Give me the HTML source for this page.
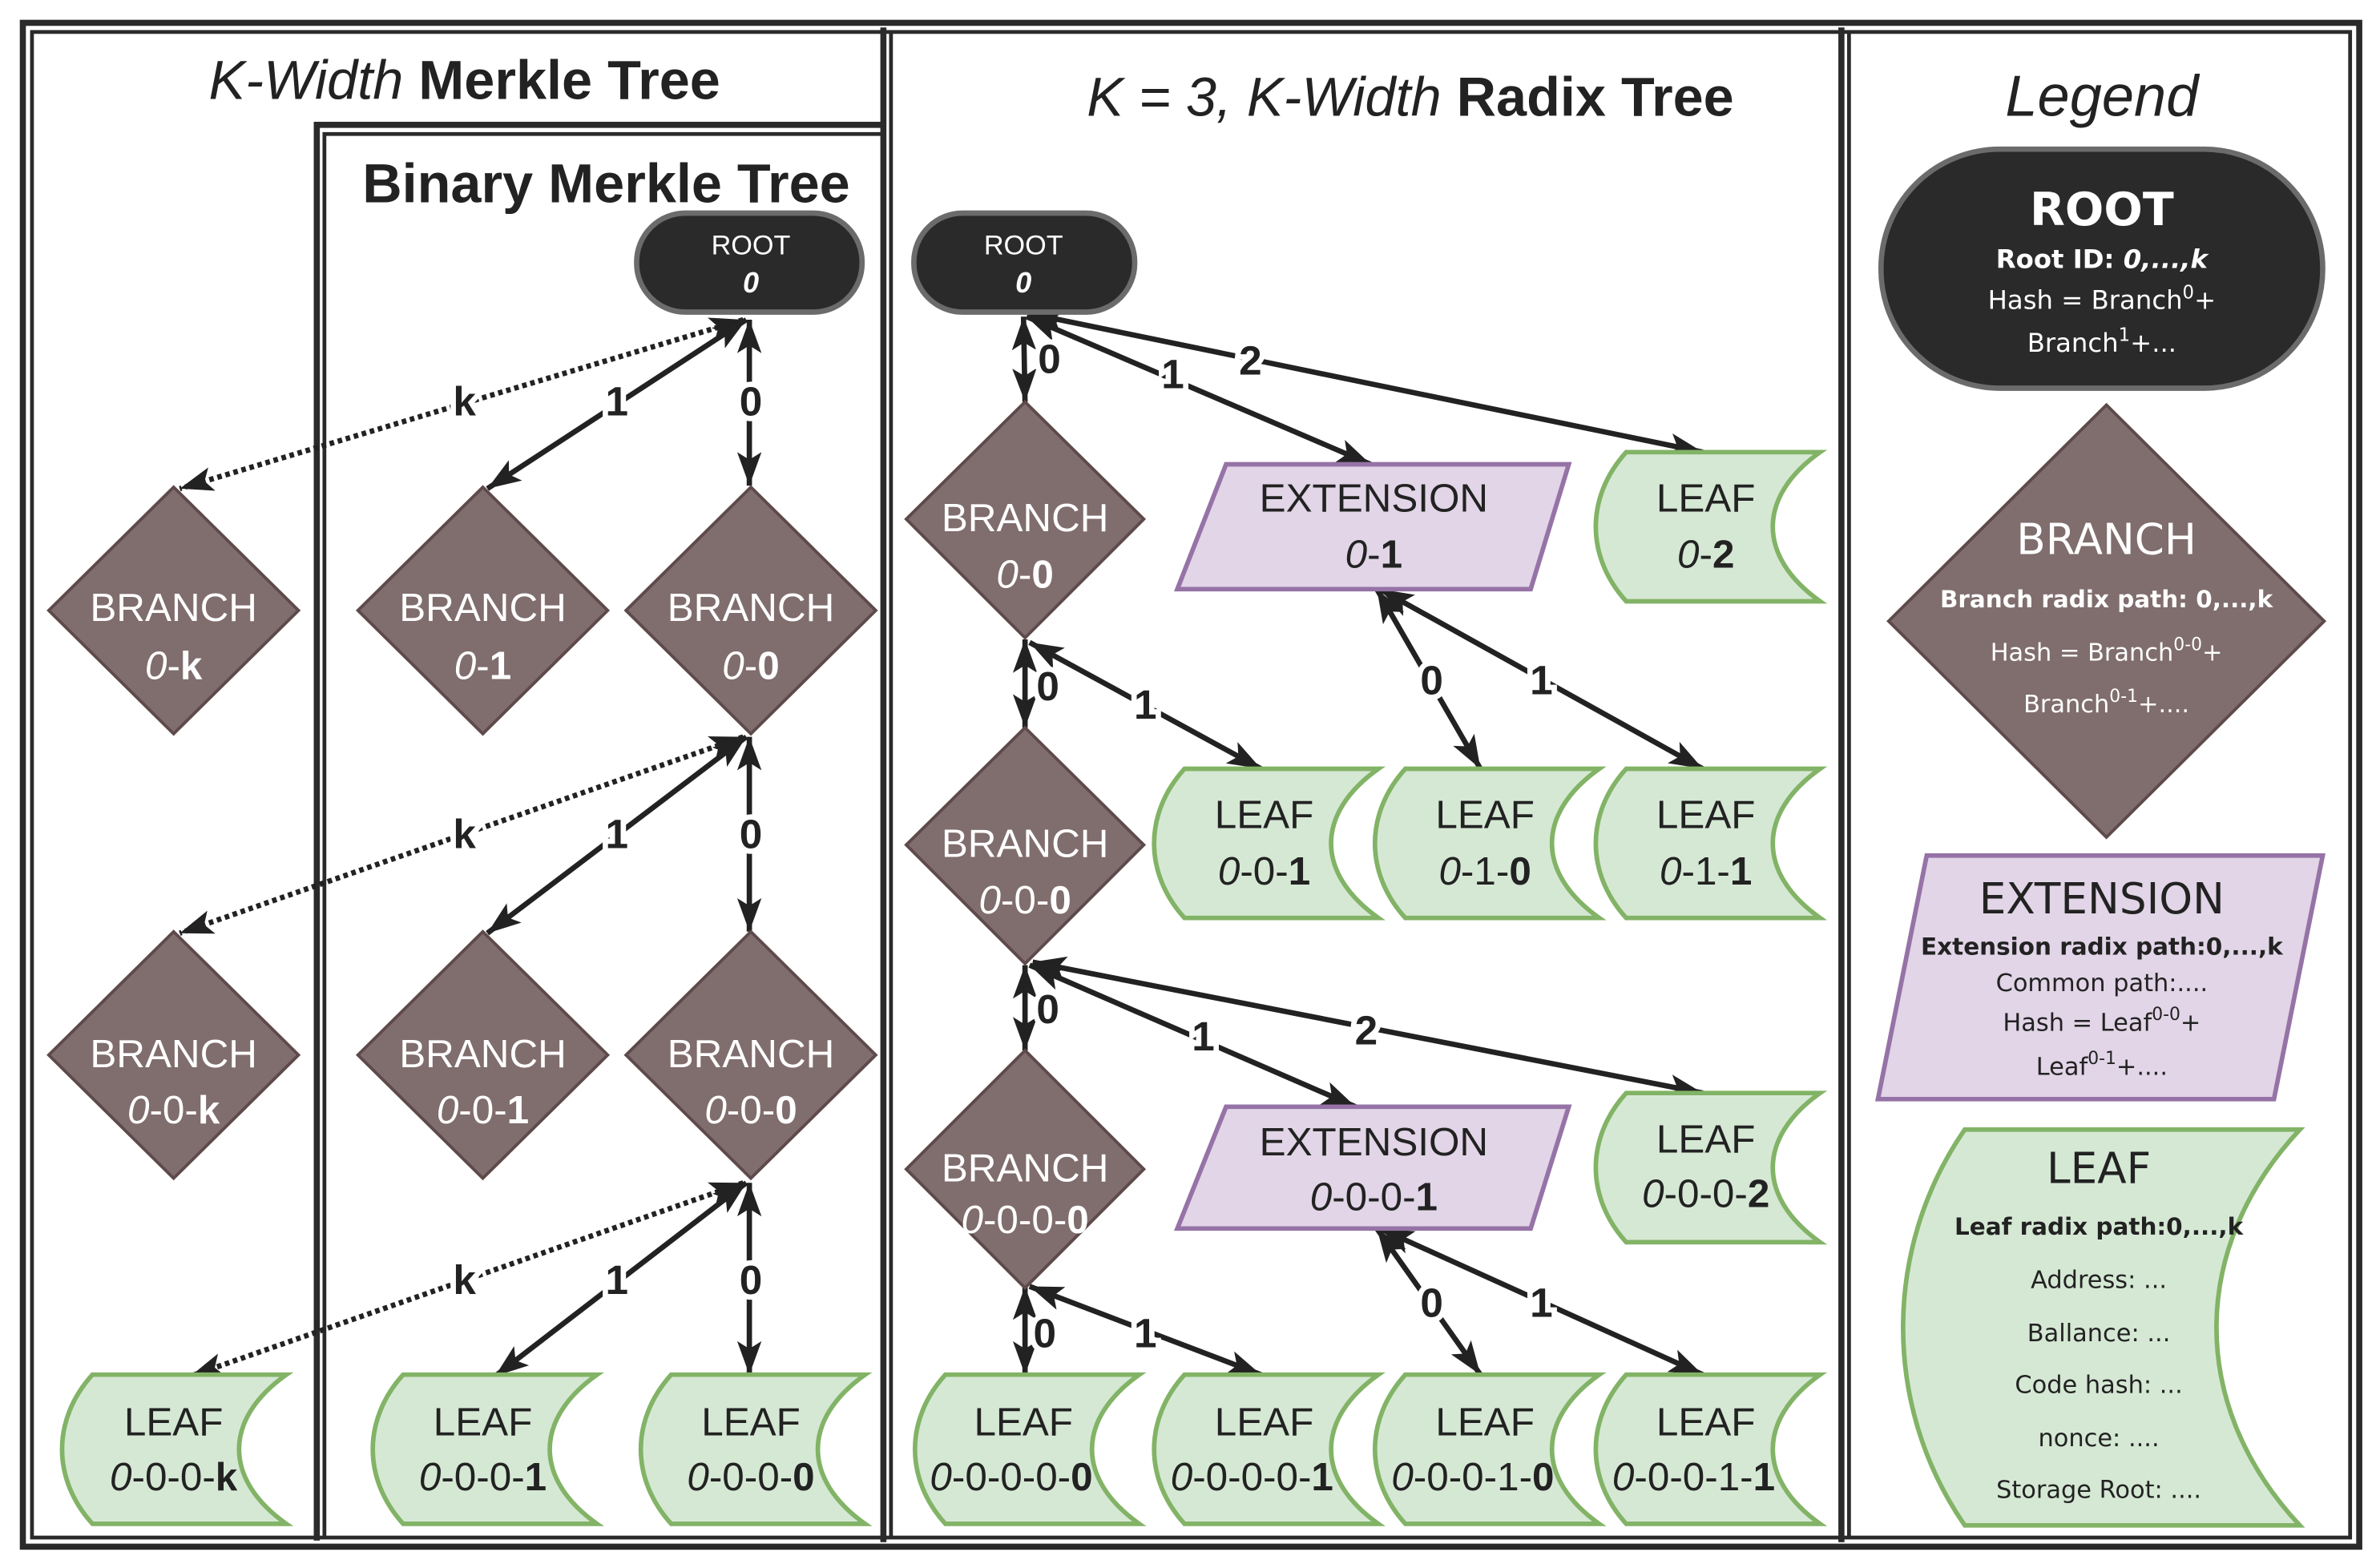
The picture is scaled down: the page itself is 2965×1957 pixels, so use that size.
<!DOCTYPE html>
<html><head><meta charset="utf-8"><style>
html,body{margin:0;padding:0;background:#fff;}
svg{display:block;}
.t{font-family:"Liberation Sans",sans-serif;}
.n{font-family:"Liberation Sans",sans-serif;font-size:26px;text-anchor:middle;}
.lbl{font-family:"Liberation Sans",sans-serif;font-weight:bold;font-size:27px;text-anchor:middle;fill:#222;stroke:#fff;stroke-width:7px;paint-order:stroke;}
.lg{font-family:"DejaVu Sans",sans-serif;text-anchor:middle;fill:#222;}
.e{stroke:#222;stroke-width:3.5;fill:none;marker-start:url(#a);marker-end:url(#a);}
.d{stroke-dasharray:3 2.5;}
.leaf{fill:#d5e8d4;stroke:#82b366;stroke-width:3;}
.ext{fill:#e1d5e7;stroke:#9673a6;stroke-width:3;}
.br{fill:#806d6d;stroke:#5e4a4a;stroke-width:2;}
.rt{fill:#2a2a2a;stroke:#6b6b6b;stroke-width:3.5;}
</style></head><body>
<svg width="2965" height="1957" viewBox="0 0 1560 1030" preserveAspectRatio="none" xmlns="http://www.w3.org/2000/svg">
<defs>
<marker id="a" markerUnits="userSpaceOnUse" markerWidth="24" markerHeight="24" viewBox="0 0 24 24" refX="22" refY="12" orient="auto-start-reverse">
<path d="M0,4 L22,12 L0,20 L5,12 Z" fill="#222"/>
</marker>
</defs>
<g fill="none" stroke="#2a2a2a">
<rect x="15" y="15" width="1534" height="1001" stroke-width="4"/>
<rect x="21" y="21" width="1522" height="989" stroke-width="2.5"/>
<line x1="580" y1="18" x2="580" y2="1013" stroke-width="4"/>
<line x1="585" y1="21" x2="585" y2="1010" stroke-width="2.5"/>
<line x1="1209" y1="18" x2="1209" y2="1013" stroke-width="4"/>
<line x1="1214" y1="21" x2="1214" y2="1010" stroke-width="2.5"/>
<path d="M208,1012 V82 H580" stroke-width="4"/>
<path d="M213,1010 V88 H580" stroke-width="2.5"/>
</g>
<text x="305" y="65" class="t" font-size="36" text-anchor="middle" fill="#222"><tspan font-style="italic">K-Width</tspan> <tspan font-weight="bold">Merkle Tree</tspan></text>
<text x="398" y="133" class="t" font-size="36" font-weight="bold" text-anchor="middle" fill="#222">Binary Merkle Tree</text>
<text x="926" y="76" class="t" font-size="36" text-anchor="middle" fill="#222"><tspan font-style="italic">K = 3,  K-Width</tspan> <tspan font-weight="bold">Radix Tree</tspan></text>
<text x="1380" y="76" class="t" font-size="38" font-style="italic" text-anchor="middle" fill="#222">Legend</text>

<line class="e d" x1="488" y1="210" x2="118" y2="321"/>
<line class="e" x1="490" y1="210" x2="320" y2="321"/>
<line class="e" x1="492" y1="210" x2="492" y2="319"/>
<line class="e d" x1="488" y1="484" x2="118" y2="613"/>
<line class="e" x1="490" y1="484" x2="320" y2="613"/>
<line class="e" x1="492" y1="484" x2="492" y2="612"/>
<line class="e d" x1="488" y1="777" x2="125" y2="904"/>
<line class="e" x1="490" y1="777" x2="325" y2="904"/>
<line class="e" x1="492" y1="777" x2="492" y2="903"/>
<text class="lbl" x="305" y="273">k</text><text class="lbl" x="405" y="273">1</text><text class="lbl" x="493" y="273">0</text>
<text class="lbl" x="305" y="557">k</text><text class="lbl" x="405" y="557">1</text><text class="lbl" x="493" y="557">0</text>
<text class="lbl" x="305" y="850">k</text><text class="lbl" x="405" y="850">1</text><text class="lbl" x="493" y="850">0</text>

<line class="e" x1="672" y1="208" x2="673" y2="264"/>
<line class="e" x1="674" y1="208" x2="900" y2="305"/>
<line class="e" x1="676" y1="206" x2="1118" y2="297"/>
<line class="e" x1="673" y1="420" x2="673" y2="478"/>
<line class="e" x1="676" y1="422" x2="828" y2="505"/>
<line class="e" x1="904" y1="387" x2="972" y2="505"/>
<line class="e" x1="906" y1="387" x2="1118" y2="505"/>
<line class="e" x1="673" y1="634" x2="673" y2="690"/>
<line class="e" x1="676" y1="634" x2="890" y2="727"/>
<line class="e" x1="678" y1="632" x2="1118" y2="718"/>
<line class="e" x1="673" y1="845" x2="673" y2="903"/>
<line class="e" x1="676" y1="845" x2="828" y2="903"/>
<line class="e" x1="904" y1="807" x2="972" y2="903"/>
<line class="e" x1="906" y1="807" x2="1118" y2="903"/>
<text class="lbl" x="689" y="245">0</text><text class="lbl" x="770" y="255">1</text><text class="lbl" x="821" y="246">2</text>
<text class="lbl" x="688" y="460">0</text><text class="lbl" x="752" y="472">1</text>
<text class="lbl" x="940" y="456">0</text><text class="lbl" x="1012" y="456">1</text>
<text class="lbl" x="688" y="672">0</text><text class="lbl" x="790" y="690">1</text><text class="lbl" x="897" y="686">2</text>
<text class="lbl" x="686" y="885">0</text><text class="lbl" x="752" y="885">1</text>
<text class="lbl" x="940" y="865">0</text><text class="lbl" x="1012" y="865">1</text>

<rect class="rt" x="418" y="140" width="148" height="65" rx="32"/>
<text x="493" y="167" font-family="Liberation Sans,sans-serif" font-size="18" fill="#fff" text-anchor="middle">ROOT</text>
<text x="493" y="192" font-family="Liberation Sans,sans-serif" font-size="19" font-weight="bold" font-style="italic" fill="#fff" text-anchor="middle">0</text>
<rect class="rt" x="600" y="140" width="145" height="65" rx="32"/>
<text x="672" y="167" font-family="Liberation Sans,sans-serif" font-size="18" fill="#fff" text-anchor="middle">ROOT</text>
<text x="672" y="192" font-family="Liberation Sans,sans-serif" font-size="19" font-weight="bold" font-style="italic" fill="#fff" text-anchor="middle">0</text>

<g fill="#fff">
<path class="br" d="M114,320 L196,401 L114,482 L32,401Z"/>
<text class="n" x="114" y="408">BRANCH</text><text class="n" x="114" y="446"><tspan font-style="italic">0</tspan>-<tspan font-weight="bold">k</tspan></text>
<path class="br" d="M317,320 L399,401 L317,482 L235,401Z"/>
<text class="n" x="317" y="408">BRANCH</text><text class="n" x="317" y="446"><tspan font-style="italic">0</tspan>-<tspan font-weight="bold">1</tspan></text>
<path class="br" d="M493,320 L575,401 L493,482 L411,401Z"/>
<text class="n" x="493" y="408">BRANCH</text><text class="n" x="493" y="446"><tspan font-style="italic">0</tspan>-<tspan font-weight="bold">0</tspan></text>
<path class="br" d="M114,612 L196,693 L114,774 L32,693Z"/>
<text class="n" x="114" y="701">BRANCH</text><text class="n" x="114" y="738"><tspan font-style="italic">0</tspan>-0-<tspan font-weight="bold">k</tspan></text>
<path class="br" d="M317,612 L399,693 L317,774 L235,693Z"/>
<text class="n" x="317" y="701">BRANCH</text><text class="n" x="317" y="738"><tspan font-style="italic">0</tspan>-0-<tspan font-weight="bold">1</tspan></text>
<path class="br" d="M493,612 L575,693 L493,774 L411,693Z"/>
<text class="n" x="493" y="701">BRANCH</text><text class="n" x="493" y="738"><tspan font-style="italic">0</tspan>-0-<tspan font-weight="bold">0</tspan></text>
<path class="br" d="M673,264 L751,341 L673,419 L595,341Z"/>
<text class="n" x="673" y="349">BRANCH</text><text class="n" x="673" y="386"><tspan font-style="italic">0</tspan>-<tspan font-weight="bold">0</tspan></text>
<path class="br" d="M673,478 L751,555 L673,633 L595,555Z"/>
<text class="n" x="673" y="563">BRANCH</text><text class="n" x="673" y="600"><tspan font-style="italic">0</tspan>-0-<tspan font-weight="bold">0</tspan></text>
<path class="br" d="M673,690 L751,768 L673,846 L595,768Z"/>
<text class="n" x="673" y="776">BRANCH</text><text class="n" x="673" y="810" font-size="23"><tspan font-style="italic">0</tspan>-0-0-<tspan font-weight="bold">0</tspan></text>
</g>

<path class="ext" d="M805,305 H1030 L1005,387 H773Z"/>
<text class="n" x="902" y="336" fill="#222">EXTENSION</text><text class="n" x="902" y="373" fill="#222"><tspan font-style="italic">0</tspan>-<tspan font-weight="bold">1</tspan></text>
<path class="ext" d="M805,727 H1030 L1005,807 H773Z"/>
<text class="n" x="902" y="759" fill="#222">EXTENSION</text><text class="n" x="902" y="795" fill="#222" font-size="23"><tspan font-style="italic">0</tspan>-0-0-<tspan font-weight="bold">1</tspan></text>

<g fill="#222">
<path class="leaf" d="M60.7,903 H188 C146.6,932.4 146.6,971.6 188,1001 H60.7 C34.1,971.6 34.1,932.4 60.7,903Z"/>
<text class="n" x="114" y="943">LEAF</text><text class="n" x="114" y="979" font-size="23"><tspan font-style="italic">0</tspan>-0-0-<tspan font-weight="bold">k</tspan></text>
<path class="leaf" d="M264.7,903 H392 C350.6,932.4 350.6,971.6 392,1001 H264.7 C238.1,971.6 238.1,932.4 264.7,903Z"/>
<text class="n" x="317" y="943">LEAF</text><text class="n" x="317" y="979" font-size="23"><tspan font-style="italic">0</tspan>-0-0-<tspan font-weight="bold">1</tspan></text>
<path class="leaf" d="M440.7,903 H568 C526.6,932.4 526.6,971.6 568,1001 H440.7 C414.1,971.6 414.1,932.4 440.7,903Z"/>
<text class="n" x="493" y="943">LEAF</text><text class="n" x="493" y="979" font-size="23"><tspan font-style="italic">0</tspan>-0-0-<tspan font-weight="bold">0</tspan></text>

<path class="leaf" d="M1067.7,297 H1195 C1153.6,326.4 1153.6,365.6 1195,395 H1067.7 C1041.1,365.6 1041.1,326.4 1067.7,297Z"/>
<text class="n" x="1120" y="336">LEAF</text><text class="n" x="1120" y="373"><tspan font-style="italic">0</tspan>-<tspan font-weight="bold">2</tspan></text>

<path class="leaf" d="M777.7,505 H905 C863.6,534.4 863.6,573.6 905,603 H777.7 C751.1,573.6 751.1,534.4 777.7,505Z"/>
<text class="n" x="830" y="544">LEAF</text><text class="n" x="830" y="581"><tspan font-style="italic">0</tspan>-0-<tspan font-weight="bold">1</tspan></text>
<path class="leaf" d="M922.7,505 H1050 C1008.6,534.4 1008.6,573.6 1050,603 H922.7 C896.1,573.6 896.1,534.4 922.7,505Z"/>
<text class="n" x="975" y="544">LEAF</text><text class="n" x="975" y="581"><tspan font-style="italic">0</tspan>-1-<tspan font-weight="bold">0</tspan></text>
<path class="leaf" d="M1067.7,505 H1195 C1153.6,534.4 1153.6,573.6 1195,603 H1067.7 C1041.1,573.6 1041.1,534.4 1067.7,505Z"/>
<text class="n" x="1120" y="544">LEAF</text><text class="n" x="1120" y="581"><tspan font-style="italic">0</tspan>-1-<tspan font-weight="bold">1</tspan></text>

<path class="leaf" d="M1067.7,718 H1195 C1153.6,747.4 1153.6,786.6 1195,816 H1067.7 C1041.1,786.6 1041.1,747.4 1067.7,718Z"/>
<text class="n" x="1120" y="757">LEAF</text><text class="n" x="1120" y="793" font-size="23"><tspan font-style="italic">0</tspan>-0-0-<tspan font-weight="bold">2</tspan></text>

<path class="leaf" d="M620.7,903 H748 C706.6,932.4 706.6,971.6 748,1001 H620.7 C594.1,971.6 594.1,932.4 620.7,903Z"/>
<text class="n" x="672" y="943">LEAF</text><text class="n" x="664" y="979" font-size="23"><tspan font-style="italic">0</tspan>-0-0-0-<tspan font-weight="bold">0</tspan></text>
<path class="leaf" d="M777.7,903 H905 C863.6,932.4 863.6,971.6 905,1001 H777.7 C751.1,971.6 751.1,932.4 777.7,903Z"/>
<text class="n" x="830" y="943">LEAF</text><text class="n" x="822" y="979" font-size="23"><tspan font-style="italic">0</tspan>-0-0-0-<tspan font-weight="bold">1</tspan></text>
<path class="leaf" d="M922.7,903 H1050 C1008.6,932.4 1008.6,971.6 1050,1001 H922.7 C896.1,971.6 896.1,932.4 922.7,903Z"/>
<text class="n" x="975" y="943">LEAF</text><text class="n" x="967" y="979" font-size="23"><tspan font-style="italic">0</tspan>-0-0-1-<tspan font-weight="bold">0</tspan></text>
<path class="leaf" d="M1067.7,903 H1195 C1153.6,932.4 1153.6,971.6 1195,1001 H1067.7 C1041.1,971.6 1041.1,932.4 1067.7,903Z"/>
<text class="n" x="1120" y="943">LEAF</text><text class="n" x="1112" y="979" font-size="23"><tspan font-style="italic">0</tspan>-0-0-1-<tspan font-weight="bold">1</tspan></text>
</g>

<rect class="rt" x="1235" y="98" width="290" height="157" rx="78" stroke-width="4"/>
<text class="lg" x="1380" y="148" font-size="30" font-weight="bold" style="fill:#fff">ROOT</text>
<text class="lg" x="1380" y="176" font-size="17" font-weight="bold" style="fill:#fff">Root ID: <tspan font-style="italic">0,...,k</tspan></text>
<text class="lg" x="1380" y="203" font-size="17" style="fill:#fff">Hash = Branch<tspan font-size="12" dy="-7">0</tspan><tspan dy="7">+</tspan></text>
<text class="lg" x="1380" y="231" font-size="17" style="fill:#fff">Branch<tspan font-size="12" dy="-7">1</tspan><tspan dy="7">+...</tspan></text>

<path class="br" d="M1383,266 L1526,408 L1383,550 L1240,408Z" stroke-width="2.5"/>
<text class="lg" x="1383" y="364" font-size="28" style="fill:#fff">BRANCH</text>
<text class="lg" x="1383" y="399" font-size="15.5" font-weight="bold" style="fill:#fff">Branch radix path: 0,...,k</text>
<text class="lg" x="1383" y="434" font-size="16" style="fill:#fff">Hash = Branch<tspan font-size="11.5" dy="-7">0-0</tspan><tspan dy="7">+</tspan></text>
<text class="lg" x="1383" y="468" font-size="16" style="fill:#fff">Branch<tspan font-size="11.5" dy="-7">0-1</tspan><tspan dy="7">+....</tspan></text>

<path class="ext" d="M1265,562 H1525 L1493,722 H1233Z"/>
<text class="lg" x="1380" y="600" font-size="28">EXTENSION</text>
<text class="lg" x="1380" y="627" font-size="15.5" font-weight="bold">Extension radix path:0,...,k</text>
<text class="lg" x="1380" y="651" font-size="16">Common path:....</text>
<text class="lg" x="1380" y="677" font-size="16">Hash = Leaf<tspan font-size="11.5" dy="-7">0-0</tspan><tspan dy="7">+</tspan></text>
<text class="lg" x="1380" y="706" font-size="16">Leaf<tspan font-size="11.5" dy="-7">0-1</tspan><tspan dy="7">+....</tspan></text>

<path class="leaf" d="M1290,742 H1510 C1437,820 1437,924 1510,1002 H1290 C1236,924 1236,820 1290,742Z"/>
<text class="lg" x="1378" y="777" font-size="28">LEAF</text>
<text class="lg" x="1378" y="811" font-size="15.5" font-weight="bold">Leaf radix path:0,...,k</text>
<text class="lg" x="1378" y="846" font-size="16">Address: ...</text>
<text class="lg" x="1378" y="881" font-size="16">Ballance: ...</text>
<text class="lg" x="1378" y="915" font-size="16">Code hash: ...</text>
<text class="lg" x="1378" y="950" font-size="16">nonce: ....</text>
<text class="lg" x="1378" y="984" font-size="16">Storage Root: ....</text>
</svg>
</body></html>
